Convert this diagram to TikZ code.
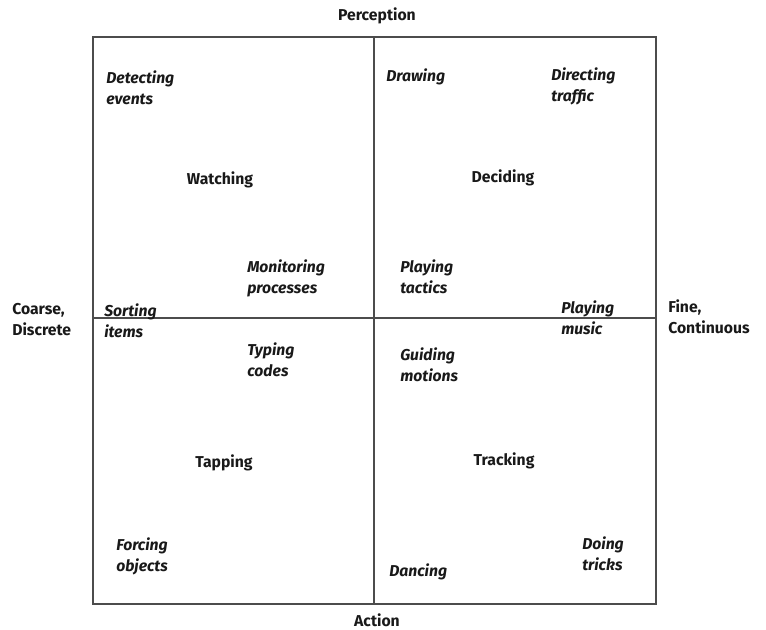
\documentclass[tikz,border=0pt]{standalone}
\usepackage{fontspec}
\setmainfont{Fira Sans}

\tikzset{
	task/.style={anchor=west, inner sep=0pt, align=left,
		font=\fontsize{11.8}{15.8}\selectfont\bfseries\itshape, text=black!90},
	mode/.style={inner sep=0pt, font=\fontsize{11.8}{15.8}\selectfont\bfseries, text=black!90},
	axislabel/.style={inner sep=0pt, align=left,
		font=\fontsize{11.8}{15.8}\selectfont\bfseries, text=black!90},
	grid line/.style={draw=black!70, line width=0.9pt}
}

\begin{document}
\begin{tikzpicture}[x=0.75pt, y=-0.75pt]
		\useasboundingbox (0,0) rectangle (766,629);

		% frame and the two axes through the middle
		\coordinate (nw) at (93,37);
		\coordinate (se) at (656,604);
		\coordinate (top)    at (374,37);
		\coordinate (bottom) at (374,604);
		\coordinate (left)   at (93,318);
		\coordinate (right)  at (656,318);

		\draw [grid line]	(nw) rectangle (se);
		\draw [grid line]	(top) -- (bottom);
		\draw [grid line]	(left) -- (right);

		% axis names
		\node [axislabel] (perception)	at (377,16)  {Perception};
		\node [axislabel] (action)		at (377,620) {Action};
		\node [axislabel, anchor=west] (coarse)	at (12,320)  {Coarse,\\Discrete};
		\node [axislabel, anchor=west] (fine)	at (668,317) {Fine,\\Continuous};

		% the four modes
		\node [mode] (watching)	at (220,180) {Watching};
		\node [mode] (deciding)	at (503,178) {Deciding};
		\node [mode] (tapping)	at (224,463) {Tapping};
		\node [mode] (tracking)	at (504,461) {Tracking};

		% tasks, top left
		\node [task] (detecting)	at (106,88)  {Detecting\\events};
		\node [task] (monitoring)	at (247,278) {Monitoring\\processes};
		\node [task] (sorting)		at (104,321) {Sorting\\items};

		% tasks, bottom left
		\node [task] (typing)		at (247,360) {Typing\\codes};
		\node [task] (forcing)		at (116,556) {Forcing\\objects};

		% tasks, top right
		\node [task] (drawing)		at (386,77)  {Drawing};
		\node [task] (directing)	at (551,86)  {Directing\\traffic};
		\node [task] (tactics)		at (400,277) {Playing\\tactics};
		\node [task] (music)		at (561,318) {Playing\\music};

		% tasks, bottom right
		\node [task] (guiding)		at (400,365) {Guiding\\motions};
		\node [task] (dancing)		at (389,572) {Dancing};
		\node [task] (tricks)		at (582,554) {Doing\\tricks};
	\end{tikzpicture}
\end{document}
